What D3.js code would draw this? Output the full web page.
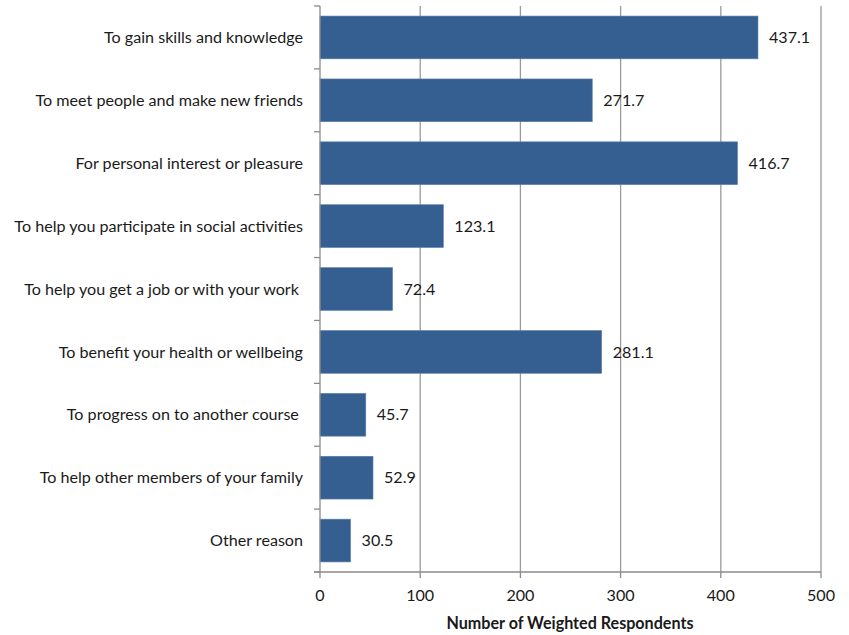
<!DOCTYPE html>
<html><head><meta charset="utf-8">
<script src="https://cdn.jsdelivr.net/npm/d3@7"></script>
<style>body{margin:0;background:#fff}svg{display:block}text{white-space:pre}</style>
</head><body><svg id="c" width="849" height="635"></svg>
<script>
const categories = ["To gain skills and knowledge","To meet people and make new friends","For personal interest or pleasure","To help you participate in social activities","To help you get a job or with your work ","To benefit your health or wellbeing","To progress on to another course ","To help other members of your family","Other reason"];
const values = [437.1,271.7,416.7,123.1,72.4,281.1,45.7,52.9,30.5];
const xTicks = [0,100,200,300,400,500];
const xTitle = "Number of Weighted Respondents";

const svg = d3.select("#c");
const font = "Lato, 'Open Sans', sans-serif";

// calibrate font size so the longest label matches reference width (~289px)
const probe = svg.append("text").attr("font-family",font).attr("font-size",20).text(categories[3]);
const w20 = probe.node().getComputedTextLength();
probe.remove();
const fs = Math.max(10, Math.min(20, 20*289/w20));

const x = d3.scaleLinear().domain([0,500]).range([320,821]);
const y = d3.scaleBand().domain(categories).range([6,572]).paddingInner(0.32).paddingOuter(0.16);

// gridlines
svg.append("g").selectAll("line").data(xTicks.slice(1)).join("line")
  .attr("x1",d=>x(d)).attr("x2",d=>x(d)).attr("y1",6).attr("y2",572)
  .attr("stroke","#9a9a9a").attr("stroke-width",1.3);

// bars
svg.append("g").selectAll("rect").data(values).join("rect")
  .attr("x",x(0)).attr("y",(d,i)=>y(categories[i]))
  .attr("width",d=>x(d)-x(0)).attr("height",y.bandwidth())
  .attr("fill","#365f91").attr("stroke","#5a7fae").attr("stroke-width",0.6);

// value labels
svg.append("g").selectAll("text").data(values).join("text")
  .attr("x",d=>x(d)+11).attr("y",(d,i)=>y(categories[i])+y.bandwidth()/2)
  .attr("dy","0.35em").attr("font-family",font).attr("font-size",fs).attr("fill","#1a1a1a")
  .text(d=>d.toFixed(1));

// left axis
const step = (572-6)/categories.length;
const yl = svg.append("g");
yl.append("line").attr("x1",320).attr("x2",320).attr("y1",6).attr("y2",572).attr("stroke","#8a8a8a").attr("stroke-width",1.3);
yl.selectAll("line.t").data(d3.range(categories.length+1)).join("line").attr("class","t")
  .attr("x1",314).attr("x2",320).attr("y1",i=>6+i*step).attr("y2",i=>6+i*step)
  .attr("stroke","#8a8a8a").attr("stroke-width",1.3);
yl.selectAll("text").data(categories).join("text")
  .attr("x",303).attr("y",d=>y(d)+y.bandwidth()/2).attr("dy","0.35em")
  .attr("text-anchor","end").attr("font-family",font).attr("font-size",fs).attr("fill","#1a1a1a")
  .text(d=>d);

// bottom axis
const xl = svg.append("g");
xl.append("line").attr("x1",314).attr("x2",821).attr("y1",572).attr("y2",572).attr("stroke","#8a8a8a").attr("stroke-width",1.3);
xl.selectAll("line.t").data(xTicks).join("line").attr("class","t")
  .attr("x1",d=>x(d)).attr("x2",d=>x(d)).attr("y1",572).attr("y2",578)
  .attr("stroke","#8a8a8a").attr("stroke-width",1.3);
xl.selectAll("text").data(xTicks).join("text")
  .attr("x",d=>x(d)).attr("y",601).attr("text-anchor","middle")
  .attr("font-family",font).attr("font-size",fs).attr("fill","#1a1a1a").text(d=>d);
svg.append("text").attr("x",570).attr("y",629).attr("text-anchor","middle")
  .attr("font-family",font).attr("font-size",fs).attr("font-weight","bold").attr("fill","#1a1a1a").text(xTitle);
</script></body></html>
